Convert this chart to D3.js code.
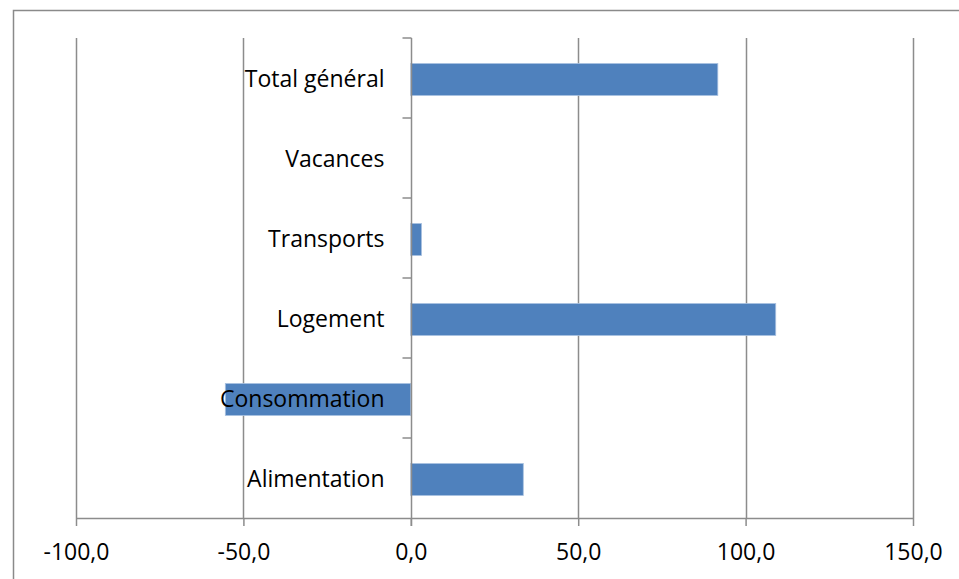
<!DOCTYPE html>
<html>
<head>
<meta charset="utf-8">
<script src="https://cdn.jsdelivr.net/npm/d3@7"></script>
<style>
  html, body { margin: 0; padding: 0; background: #fff; }
  svg { display: block; }
  text { font-family: "Open Sans", "Noto Sans", sans-serif; fill: #000; }
</style>
</head>
<body>
<svg id="chart" width="959" height="579"></svg>
<script>
// Categories listed bottom to top as they appear on the axis
const categories = ["Alimentation", "Consommation", "Logement", "Transports", "Vacances", "Total général"];
const values = [33.6, -55.4, 109.0, 3.2, 0, 91.7];
const xTicks = [-100, -50, 0, 50, 100, 150];

const svg = d3.select("#chart");
const W = 959, H = 579;
const plot = { left: 76, right: 913, top: 38, bottom: 518 };
const fontSize = "23px";

// Chart area frame
svg.append("rect")
  .attr("x", 13.5).attr("y", 10.5)
  .attr("width", W + 10).attr("height", H + 10)
  .attr("fill", "none").attr("stroke", "#8a8a8a").attr("stroke-width", 1.5);

const x = d3.scaleLinear().domain([-100, 150]).range([plot.left, plot.right]);
const y = d3.scaleBand()
  .domain(categories.slice().reverse())
  .range([plot.top + 1.5, plot.bottom + 1.5])
  .paddingInner(0.6).paddingOuter(0.3);
const yTicks = d3.scaleBand().domain(categories.slice().reverse()).range([plot.top, plot.bottom]);

// Comma decimal, plain hyphen for negatives
const fmt = v => v.toFixed(1).replace(".", ",");

// Vertical gridlines
svg.append("g").selectAll("line").data(xTicks.filter(t => t !== 0)).join("line")
  .attr("x1", d => Math.round(x(d)) + 0.5).attr("x2", d => Math.round(x(d)) + 0.5)
  .attr("y1", plot.top).attr("y2", plot.bottom)
  .attr("stroke", "#8c8c8c").attr("stroke-width", 1.5);

// Bars
svg.append("g").selectAll("rect").data(categories.map((c, i) => ({ c, v: values[i] }))).join("rect")
  .attr("x", d => x(Math.min(0, d.v)))
  .attr("width", d => Math.abs(x(d.v) - x(0)))
  .attr("y", d => y(d.c))
  .attr("height", y.bandwidth())
  .attr("fill", "#4f81bd")
  .attr("stroke", d => d.v === 0 ? "none" : "#a9c1e0").attr("stroke-width", 0.8);

// Horizontal value axis
const xAxis = d3.axisBottom(x).tickValues(xTicks).tickFormat(fmt).tickSize(8).tickPadding(18);
const gx = svg.append("g").attr("transform", `translate(0,${plot.bottom})`).call(xAxis);
gx.select(".domain").attr("stroke", "#8c8c8c").attr("stroke-width", 1.5).attr("d", `M${plot.left},0.5H${plot.right}`);
gx.selectAll(".tick line").attr("stroke", "#8c8c8c").attr("stroke-width", 1.5);
gx.selectAll(".tick text").style("font-size", fontSize).attr("fill", "#000");

// Category axis at zero
const x0 = Math.round(x(0)) + 0.5;
const gy = svg.append("g").attr("transform", `translate(${x0},0)`);
gy.append("line").attr("y1", plot.top).attr("y2", plot.bottom + 8)
  .attr("stroke", "#8c8c8c").attr("stroke-width", 1.5);
const tickYs = yTicks.domain().map(d => yTicks(d));
gy.selectAll("line.tk").data(tickYs).join("line").attr("class", "tk")
  .attr("x1", -9).attr("x2", 0).attr("y1", d => d).attr("y2", d => d)
  .attr("stroke", "#8c8c8c").attr("stroke-width", 1.5);
gy.selectAll("text").data(categories).join("text")
  .attr("x", -27).attr("y", d => yTicks(d) + yTicks.bandwidth() / 2 + 3)
  .attr("text-anchor", "end").attr("dominant-baseline", "middle")
  .style("font-size", fontSize)
  .text(d => d);
</script>
</body>
</html>
